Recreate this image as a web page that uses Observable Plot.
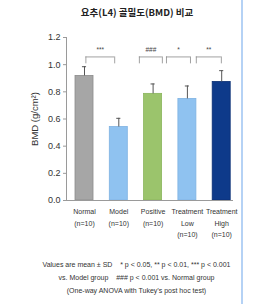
<!DOCTYPE html>
<html>
<head>
<meta charset="utf-8">
<script src="https://cdn.jsdelivr.net/npm/d3@7"></script>
<script src="https://cdn.jsdelivr.net/npm/@observablehq/plot@0.6"></script>
<style>
  html, body { margin: 0; padding: 0; background: #fff; }
  #page { position: relative; width: 268px; height: 304px; overflow: hidden; font-family: "Liberation Sans", Arial, sans-serif; }
  #title { position: absolute; left: 0; top: 5px; width: 274px; text-align: center;
           font-family: "Noto Sans CJK KR", sans-serif; font-size: 9.5px; font-weight: 600; color: #222; }
  #chart { position: absolute; left: 0; top: 20px; }
  #note { position: absolute; left: 0; top: 259px; width: 273px; text-align: center;
          font-size: 7px; line-height: 12.8px; color: #333; white-space: pre; }
  #edge { position: absolute; left: 241px; top: 0; width: 2px; height: 304px; background: #b5d2f5; }
</style>
</head>
<body>
<div id="page">
  <div id="title">요추(L4) 골밀도(BMD) 비교</div>
  <div id="chart"></div>
  <div id="note"></div>
  <div id="edge"></div>
</div>
<script>
// Groups, with their tick labels
const groups = ["Normal", "Model", "Positive", "Treatment Low", "Treatment High"];
const groupLabels = ["Normal\n(n=10)", "Model\n(n=10)", "Positive\n(n=10)", "Treatment\nLow\n(n=10)", "Treatment\nHigh\n(n=10)"];

// Mean BMD and SD per group (g/cm²)
const means = [0.917, 0.541, 0.785, 0.748, 0.873];
const sds = [0.068, 0.064, 0.073, 0.095, 0.083];

// Bar fills
const fills = ["#a6a6a6", "#8fc2f0", "#9bc46c", "#8fc2f0", "#0e3a8a"];
const strokes = ["#8c8c8c", "#7fb2e2", "#8ab55c", "#7fb2e2", "#0a2f73"];

// Y ticks
const yTicks = [0, 0.2, 0.4, 0.6, 0.8, 1.0, 1.2];

// Significance brackets: mark, span in group-index units
const bracketMarks = ["***", "###", "*", "**"];
const bracketFrom = [0.04, 1.6, 2.39, 3.26];
const bracketTo = [0.88, 2.27, 3.09, 3.99];

const footnote = [
  "Values are mean ± SD    * p < 0.05, ** p < 0.01, *** p < 0.001",
  "vs. Model group    ### p < 0.001 vs. Normal group",
  "(One-way ANOVA with Tukey’s post hoc test)"
];

const bars = groups.map((g, i) => ({i, g, mean: means[i], sd: sds[i], fill: fills[i], stroke: strokes[i]}));
const brackets = bracketMarks.map((m, k) => ({m, from: bracketFrom[k], to: bracketTo[k]}));

const half = 0.2625;   // half bar width, in group units
const cap = 0.06;      // half error-cap width
const bTop = 1.057, bEnd = 1.006, bText = 1.112;

const chart = Plot.plot({
  width: 240,
  height: 226,
  marginLeft: 66,
  marginRight: 8,
  marginTop: 17,
  marginBottom: 46,
  style: {fontFamily: "'Liberation Sans', Arial, sans-serif", color: "#333", background: "transparent"},
  x: {domain: [-0.525, 4.315], axis: null},
  y: {domain: [0, 1.2], axis: null},
  marks: [
    Plot.rectY(bars, {x1: d => d.i - half, x2: d => d.i + half, y: "mean", fill: "fill", stroke: "stroke", strokeWidth: 0.8}),
    Plot.ruleX(bars, {x: "i", y1: "mean", y2: d => d.mean + d.sd, stroke: "#555", strokeWidth: 1}),
    Plot.ruleY(bars, {x1: d => d.i - cap, x2: d => d.i + cap, y: d => d.mean + d.sd, stroke: "#555", strokeWidth: 1}),
    Plot.ruleY(brackets, {x1: "from", x2: "to", y: bTop, stroke: "#8a8a8a", strokeWidth: 0.8}),
    Plot.ruleX(brackets, {x: "from", y1: bEnd, y2: bTop, stroke: "#8a8a8a", strokeWidth: 0.8}),
    Plot.ruleX(brackets, {x: "to", y1: bEnd, y2: bTop, stroke: "#8a8a8a", strokeWidth: 0.8}),
    Plot.text(brackets, {x: d => (d.from + d.to) / 2, y: bText, text: "m", fontSize: 6.5, fill: "#444"}),
    Plot.frame({anchor: "left", stroke: "#9a9a9a"}),
    Plot.frame({anchor: "bottom", stroke: "#9a9a9a"}),
    Plot.axisY({ticks: yTicks, tickFormat: d3.format(".1f"), tickSize: 3, tickPadding: 3, fontSize: 9, label: null, stroke: "#9a9a9a", color: "#333"}),
    Plot.axisX({ticks: d3.range(groups.length), tickFormat: i => groupLabels[i], tickSize: 0, tickPadding: 6, fontSize: 7, lineHeight: 1.6, label: null, color: "#333"}),
    Plot.text(["BMD (g/cm²)"], {frameAnchor: "left", dx: -32, rotate: -90, fontSize: 9.5, textAnchor: "middle", lineAnchor: "middle", fill: "#333"})
  ]
});
document.getElementById("chart").append(chart);
document.getElementById("note").textContent = footnote.join("\n");
</script>
</body>
</html>
